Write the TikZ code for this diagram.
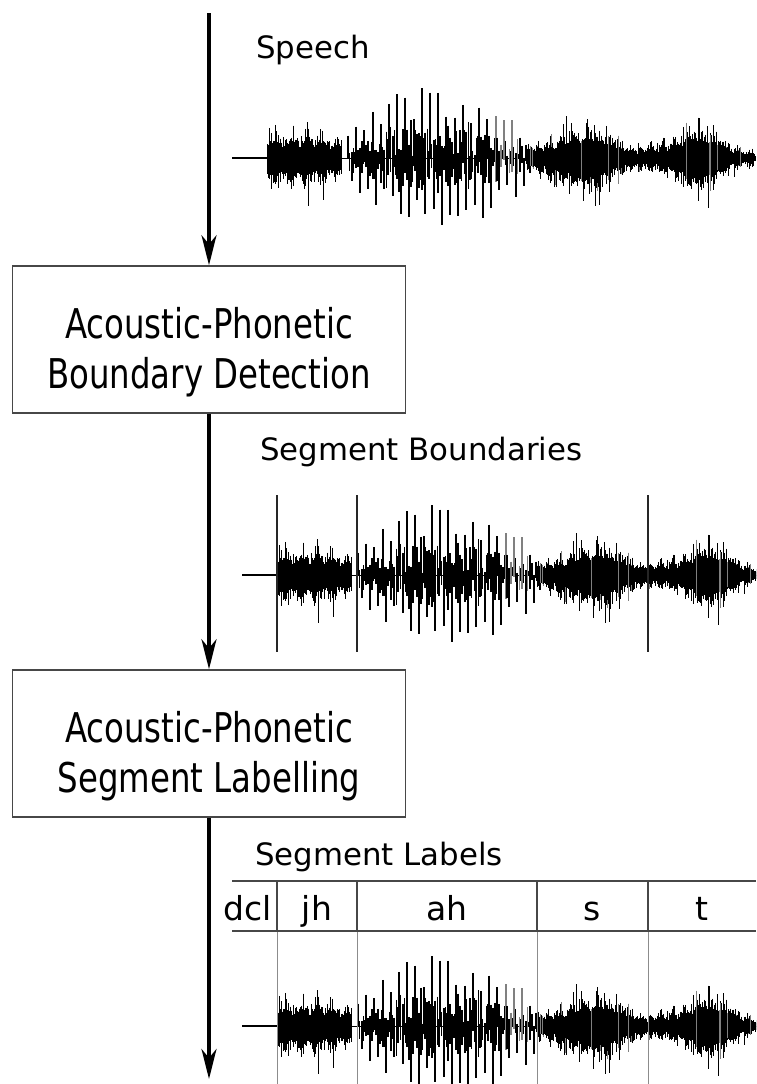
\documentclass[tikz,border=0pt]{standalone}
\usepackage{fontspec}
\setmainfont{DejaVu Sans}
\newfontfamily\boxfont[FakeStretch=0.79]{DejaVu Sans}
\usetikzlibrary{arrows.meta,fpu}

\tikzset{
  flow/.style={line width=3.6pt, -{Stealth[length=30pt,width=15pt,inset=9pt]}},
  procbox/.style={draw=black!72, line width=1.5pt, minimum width=393pt, minimum height=147pt, inner sep=0pt},
  boxtxt/.style={font=\boxfont\fontsize{41}{49}\selectfont, anchor=base, inner sep=0pt},
  lbl/.style={font=\fontsize{30.8}{37}\selectfont, anchor=base west, inner sep=0pt},
  segtxt/.style={font=\fontsize{33}{40}\selectfont, anchor=base, inner sep=0pt},
  wl/.style={line width=1pt},
  cl/.style={line width=1.6pt},
  vl/.style={line width=2pt},
  rowline/.style={draw=black!72, line width=1.5pt},
  bnd/.style={draw=black!85, line width=1.2pt},
  lightbnd/.style={draw=black!45, line width=1pt}
}
\newcommand\fpuon{\pgfkeys{/pgf/fpu=true,/pgf/fpu/output format=fixed}}
\newcommand\fpuoff{\pgfkeys{/pgf/fpu=false}}
\newcommand\pickcol[1]{\ifdim\wr pt>#1pt\def\wcol{black!50}\else\def\wcol{black}\fi}

\newcommand\speechwave{%
  \pgfmathsetseed{4321}%
  \draw[line width=1.4pt] (242,0) -- (277,0);
  \draw[line width=0.7pt] (277,0) -- (766,0);
  % jh burst
  \foreach \k in {0,...,124}{%
    \fpuon
    \pgfmathsetmacro\wx{277.5+0.6*\k}%
    \pgfmathsetmacro\we{29+5*sin(23*\wx)-13*max(0,(\wx-328)/24)}%
    \pgfmathsetmacro\wa{\we*(0.45+0.6*rnd*rnd)*(1+0.6*(rnd>0.9))}%
    \pgfmathsetmacro\wb{\we*(0.5+0.6*rnd*rnd)*(1+0.4*(rnd>0.92))}%
    \fpuoff
    \draw[wl] (\wx,-\wa) -- (\wx,\wb);
  }
  % vowel
  \foreach \i in {0,...,21}{%
    \fpuon
    \pgfmathsetmacro\wx{358+8.2*\i}%
    \pgfmathsetmacro\wxb{\wx+3.6}%
    \pgfmathsetmacro\wxc{\wx+1.6}%
    \pgfmathsetmacro\wxd{\wx+5.6}%
    \pgfmathsetmacro\wxe{\wx+7}%
    \pgfmathsetmacro\wu{(\wx-355)/185}%
    \pgfmathsetmacro\wA{22+62*(sin(180*\wu))^0.8*(1-0.2*\wu)}%
    \pgfmathsetmacro\wa{\wA*(0.5+0.45*rnd)}%
    \pgfmathsetmacro\wb{\wA*0.45*rnd}%
    \pgfmathsetmacro\wc{\wA*0.4*rnd}%
    \pgfmathsetmacro\wd{\wA*(0.5+0.45*rnd)}%
    \pgfmathsetmacro\wf{\wA*(0.1+0.4*rnd)}%
    \pgfmathsetmacro\wg{\wA*(0.1+0.4*rnd)}%
    \pgfmathsetmacro\wh{\wA*(0.1+0.45*rnd)}%
    \pgfmathsetmacro\wj{\wA*(0.1+0.45*rnd)}%
    \pgfmathsetmacro\wm{\wA*0.35*rnd}%
    \pgfmathsetmacro\wn{\wA*0.35*rnd}%
    \pgfmathsetmacro\wr{rnd}%
    \fpuoff
    \ifdim\wx pt>505pt \pickcol{0.5}\else\def\wcol{black}\fi
    \draw[vl, draw=\wcol] (\wx,-\wa) -- (\wx,\wb);
    \draw[vl] (\wxb,-\wc) -- (\wxb,\wd);
    \draw[cl] (\wxc,-\wf) -- (\wxc,\wg);
    \draw[cl, draw=\wcol] (\wxd,-\wh) -- (\wxd,\wj);
    \draw[cl] (\wxe,-\wm) -- (\wxe,\wn);
  }
  % s
  \foreach \k in {0,...,184}{%
    \fpuon
    \pgfmathsetmacro\wx{537+0.6*\k}%
    \pgfmathsetmacro\wu{(\wx-595)/25}%
    \pgfmathsetmacro\we{17+24/(1+\wu*\wu*\wu*\wu)+4*sin(31*\wx)-6*max(0,(\wx-628)/20)}%
    \pgfmathsetmacro\wa{\we*(0.4+0.6*rnd*rnd)*(1+0.5*(rnd>0.93))}%
    \pgfmathsetmacro\wb{\we*(0.45+0.6*rnd*rnd)*(1+0.5*(rnd>0.93))}%
    \pgfmathsetmacro\wr{rnd}%
    \fpuoff
    \pickcol{0.93}%
    \draw[wl, draw=\wcol] (\wx,-\wa) -- (\wx,\wb);
  }
  % t
  \foreach \k in {0,...,196}{%
    \fpuon
    \pgfmathsetmacro\wx{648+0.6*\k}%
    \pgfmathsetmacro\wu{(\wx-708)/20}%
    \pgfmathsetmacro\we{15+26/(1+\wu*\wu*\wu*\wu)+4*sin(29*\wx)-6*max(0,(\wx-735)/21)}%
    \pgfmathsetmacro\wa{\we*(0.4+0.6*rnd*rnd)*(1+0.5*(rnd>0.93))}%
    \pgfmathsetmacro\wb{\we*(0.45+0.6*rnd*rnd)*(1+0.5*(rnd>0.93))}%
    \pgfmathsetmacro\wr{rnd}%
    \fpuoff
    \pickcol{0.93}%
    \draw[wl, draw=\wcol] (\wx,-\wa) -- (\wx,\wb);
  }
}

\begin{document}
\begin{tikzpicture}[x=1pt,y=-1pt]
\path[use as bounding box, fill=white] (0,0) rectangle (756,1084);
\clip (0,0) rectangle (756,1084);

% process boxes
\node[procbox] (box1) at (209,339.5) {};
\node[boxtxt] (b1a) at (209,338) {Acoustic-Phonetic};
\node[boxtxt] (b1b) at (209,388) {Boundary Detection};
\node[procbox] (box2) at (209,743.5) {};
\node[boxtxt] (b2a) at (209,742) {Acoustic-Phonetic};
\node[boxtxt] (b2b) at (209,792) {Segment Labelling};

% flow arrows
\coordinate (start) at (209,13);
\coordinate (finish) at (209,1079);
\draw[flow] (start) -- (box1.north);
\draw[flow] (box1.south) -- (box2.north);
\draw[flow] (box2.south) -- (finish);

% labels
\node[lbl] (speech) at (256,58) {Speech};
\node[lbl] (segb) at (260,460) {Segment Boundaries};
\node[lbl] (segl) at (255,865) {Segment Labels};

% waveform 1
\begin{scope}[shift={(-10,158)}]
  \speechwave
\end{scope}

% waveform 2 with boundaries
\begin{scope}[shift={(0,575)}]
  \speechwave
  \foreach \bx in {277,357,648}{\draw[bnd] (\bx,-80) -- (\bx,77);}
\end{scope}

% waveform 3 with labels
\begin{scope}[shift={(0,1026)}]
  \speechwave
\end{scope}
\foreach \bx in {277,357,537,648}{
  \draw[rowline] (\bx,881) -- (\bx,931);
  \draw[lightbnd] (\bx,931) -- (\bx,1084);
}
\draw[rowline] (232,881) -- (756,881);
\draw[rowline] (232,931) -- (756,931);
\node[segtxt] (ldcl) at (248,920) {dcl};
\node[segtxt] (ljh) at (317,920) {jh};
\node[segtxt] (lah) at (447,920) {ah};
\node[segtxt] (ls) at (592,920) {s};
\node[segtxt] (lt) at (702,920) {t};
\end{tikzpicture}
\end{document}
